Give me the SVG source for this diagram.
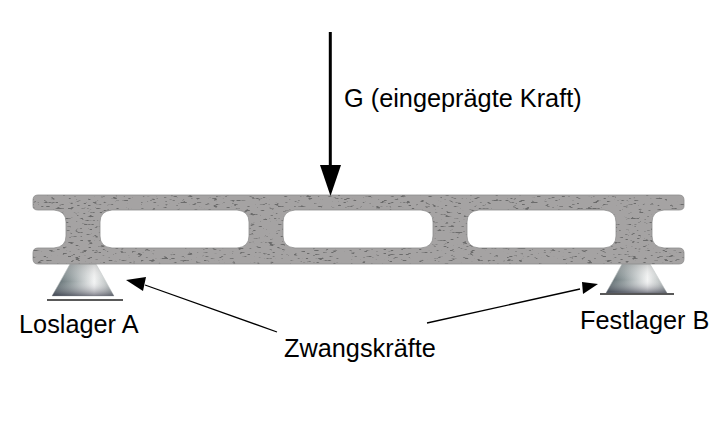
<svg xmlns="http://www.w3.org/2000/svg" width="728" height="422" viewBox="0 0 728 422">
<style>
text{font-family:"Liberation Sans",Arial,sans-serif;font-size:25.3px;fill:#000}
.conn{stroke:#000;fill:none}
.base{stroke:#222;stroke-width:1.500;fill:none}
.sup{stroke:#c8cccc;stroke-width:.6}
</style>
<defs>
<linearGradient id="supG" x1="0" y1="0" x2="1" y2="0"><stop offset="0" stop-color="#46555a"/><stop offset=".3" stop-color="#8b9698"/><stop offset=".68" stop-color="#f2f3f3"/><stop offset=".85" stop-color="#c5caca"/><stop offset="1" stop-color="#8a9494"/></linearGradient>
<linearGradient id="supV" x1="0" y1="0" x2="0" y2="1"><stop offset="0" stop-color="#aaa" stop-opacity=".5"/><stop offset=".55" stop-color="#fff" stop-opacity=".05"/><stop offset="1" stop-color="#334" stop-opacity=".6"/></linearGradient>
<filter id="speckle" x="0" y="0" width="100%" height="100%" color-interpolation-filters="sRGB">
<feTurbulence type="fractalNoise" baseFrequency="0.16 0.5" numOctaves="2" seed="7"/>
<feColorMatrix values="0 0 0 0 .42 0 0 0 0 .42 0 0 0 0 .42 9 0 0 0 -5.6"/>
<feComposite in2="SourceAlpha" operator="in" result="dark"/>
<feMerge><feMergeNode in="SourceGraphic"/><feMergeNode in="dark"/></feMerge>
</filter>
<path id="beamShape" fill-rule="evenodd" d="M38 195H679Q684 195 684 200V206Q684 210 679 210H664Q652 211 652 222V236Q652 247 664 248H679Q684 248 684 253V259Q684 264 679 264H38Q33 264 33 259V253Q33 248 38 248H54Q66 247 66 236V222Q66 211 54 210H38Q33 210 33 206V200Q33 195 38 195ZM112 210Q100 211 100 222V236Q100 247 112 248H237Q249 247 249 236V222Q249 211 237 210ZM295 210Q283 211 283 222V236Q283 247 295 248H421Q433 247 433 236V222Q433 211 421 210ZM479 210Q467 211 467 222V236Q467 247 479 248H604Q616 247 616 236V222Q616 211 604 210Z"/>
</defs>
<rect width="728" height="422" fill="#fff"/>
<g id="support-a">
<path d="M70 264H96L114 296H52Z" fill="url(#supG)" class="sup"/>
<path d="M70 264H96L114 296H52Z" fill="url(#supV)"/>
<path d="M47 300H123" class="base"/>
</g>
<g id="support-b">
<path d="M622 264H650L667 293H606Z" fill="url(#supG)" class="sup"/>
<path d="M622 264H650L667 293H606Z" fill="url(#supV)"/>
<path d="M600 294H674" class="base"/>
</g>
<g id="beam">
<use href="#beamShape" fill="#a5a3a3" filter="url(#speckle)"/>
<use href="#beamShape" fill="none" stroke="#8d8d8d" stroke-width=".8"/>
</g>
<g id="connectors">
<path d="M330.300 32V176" class="conn" stroke-width="3"/>
<path d="M320 165H341L330.500 196Z" fill="#000"/>
<path d="M277 332L145 285" class="conn" stroke-width="1.300"/>
<path d="M126 280L146 277L143 291Z" fill="#000"/>
<path d="M427 323L580 289" class="conn" stroke-width="1.300"/>
<path d="M598 284L582 282L583 294Z" fill="#000"/>
</g>
<g id="labels">
<text x="344" y="107">G (eingeprägte Kraft)</text>
<text x="19" y="333">Loslager A</text>
<text x="580" y="329">Festlager B</text>
<text x="284" y="356.500">Zwangskräfte</text>
</g>
</svg>
